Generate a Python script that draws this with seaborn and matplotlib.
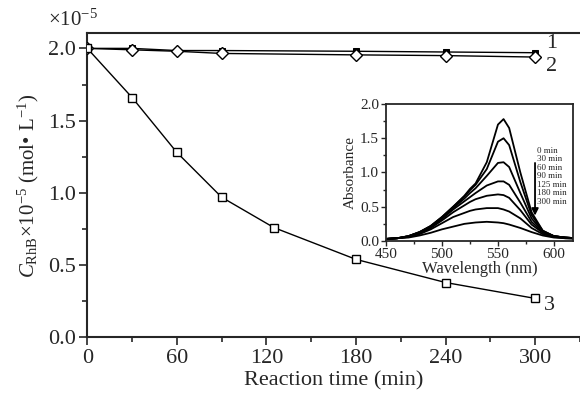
import numpy as np
import pandas as pd
import matplotlib
matplotlib.use("Agg")
import matplotlib.pyplot as plt
import seaborn as sns

sns.set_style("ticks")
plt.rcParams['font.family'] = ['Liberation Serif', 'DejaVu Serif']
plt.rcParams['mathtext.fontset'] = 'custom'
plt.rcParams['mathtext.rm'] = 'Liberation Serif'
plt.rcParams['mathtext.it'] = 'Liberation Serif:italic'

# ---- main data ----
time_1 = [0, 30, 60, 90, 180, 240, 300]
conc_1 = [2.00, 2.00, 1.985, 1.985, 1.98, 1.975, 1.97]
time_2 = [0, 30, 60, 90, 180, 240, 300]
conc_2 = [2.00, 1.99, 1.98, 1.965, 1.955, 1.95, 1.94]
time_3 = [0, 30, 60, 90, 125, 180, 240, 300]
conc_3 = [2.00, 1.66, 1.28, 0.97, 0.76, 0.54, 0.38, 0.27]
series_labels = ["1", "2", "3"]

# ---- inset spectra ----
wavelength = [450, 460, 470, 480, 490, 500, 510, 520, 525, 530, 540, 550, 555, 560, 570, 580, 590, 600, 610, 620]
spec_labels = ["0 min", "30 min", "60 min", "90 min", "125 min", "180 min", "300 min"]
spec_0 = [0.03, 0.04, 0.07, 0.13, 0.22, 0.35, 0.50, 0.66, 0.76, 0.84, 1.15, 1.70, 1.78, 1.65, 1.00, 0.42, 0.15, 0.07, 0.05, 0.04]
spec_30 = [0.03, 0.04, 0.07, 0.13, 0.22, 0.35, 0.50, 0.65, 0.74, 0.82, 1.05, 1.45, 1.50, 1.40, 0.86, 0.38, 0.15, 0.07, 0.05, 0.04]
spec_60 = [0.03, 0.04, 0.07, 0.13, 0.21, 0.34, 0.48, 0.62, 0.70, 0.77, 0.95, 1.14, 1.15, 1.08, 0.70, 0.33, 0.14, 0.07, 0.05, 0.04]
spec_90 = [0.03, 0.04, 0.07, 0.12, 0.20, 0.32, 0.46, 0.58, 0.64, 0.70, 0.81, 0.87, 0.87, 0.82, 0.56, 0.28, 0.13, 0.07, 0.05, 0.04]
spec_125 = [0.03, 0.04, 0.06, 0.11, 0.19, 0.30, 0.42, 0.52, 0.57, 0.61, 0.66, 0.68, 0.67, 0.63, 0.45, 0.24, 0.12, 0.07, 0.05, 0.04]
spec_180 = [0.03, 0.04, 0.06, 0.10, 0.17, 0.26, 0.35, 0.41, 0.44, 0.46, 0.48, 0.48, 0.46, 0.43, 0.33, 0.19, 0.10, 0.06, 0.04, 0.04]
spec_300 = [0.03, 0.04, 0.05, 0.08, 0.12, 0.17, 0.21, 0.25, 0.26, 0.27, 0.28, 0.27, 0.26, 0.24, 0.19, 0.13, 0.08, 0.05, 0.04, 0.03]
spectra = [spec_0, spec_30, spec_60, spec_90, spec_125, spec_180, spec_300]

fig = plt.figure(figsize=(5.8, 3.97), dpi=100)
ax = fig.add_axes([0.1505, 0.150, 0.8495, 0.766])

df1 = pd.DataFrame({"t": time_1, "c": conc_1})
df2 = pd.DataFrame({"t": time_2, "c": conc_2})
df3 = pd.DataFrame({"t": time_3, "c": conc_3})
sns.lineplot(data=df1, x="t", y="c", ax=ax, color="black", lw=1.0, marker="s",
             markersize=5, markerfacecolor="black", markeredgecolor="black", zorder=3)
sns.lineplot(data=df2, x="t", y="c", ax=ax, color="black", lw=1.0, marker="D",
             markersize=6, markerfacecolor="white", markeredgecolor="black", markeredgewidth=1.0, zorder=4)
sns.lineplot(data=df3, x="t", y="c", ax=ax, color="black", lw=1.0, marker="s",
             markersize=5.5, markerfacecolor="white", markeredgecolor="black", markeredgewidth=1.0, zorder=4)

ax.set_xlim(0, 325.3)
ax.set_ylim(0, 2.104)
ax.set_xticks([0, 60, 120, 180, 240, 300])
ax.set_xticks([30, 90, 150, 210, 270, 330], minor=True)
ax.set_yticks([0.0, 0.5, 1.0, 1.5, 2.0])
ax.set_yticklabels(["0.0", "0.5", "1.0", "1.5", "2.0"])
ax.set_yticks([0.25, 0.75, 1.25, 1.75], minor=True)
ax.tick_params(which="major", direction="out", length=6, width=1.2, labelsize=16, pad=2)
ax.tick_params(which="minor", direction="out", length=3.5, width=1.2)
for s in ["left", "bottom", "top"]:
    ax.spines[s].set_linewidth(1.5)
ax.spines["right"].set_visible(False)
ax.set_xlabel("Reaction time (min)", fontsize=16, labelpad=3)
ax.set_ylabel(r"$C_{\rm RhB}$×10$^{-5}$ (mol• L$^{-1}$)", fontsize=15, labelpad=5)

fig.text(0.083, 0.950, r"×10$^{-5}$", fontsize=15, ha="left", va="center")

ax.text(307, conc_1[-1] + 0.0, series_labels[0], fontsize=16, ha="left", va="bottom")
ax.text(307, conc_2[-1] - 0.0, series_labels[1], fontsize=16, ha="left", va="top")
ax.text(306, conc_3[-1] - 0.05, series_labels[2], fontsize=16, ha="left", va="center")

# ---- inset ----
ins = fig.add_axes([0.6655, 0.393, 0.3224, 0.345])
rows = []
for lab, vals in zip(spec_labels, spectra):
    for w, a in zip(wavelength, vals):
        rows.append({"wl": w, "abs": a, "time": lab})
sdf = pd.DataFrame(rows)
sns.lineplot(data=sdf, x="wl", y="abs", hue="time", palette=["black"] * len(spec_labels),
             ax=ins, lw=1.3, legend=False)
ins.set_xlim(450, 617)
ins.set_ylim(0, 2.0)
ins.set_xticks([450, 500, 550, 600])
ins.set_xticks([475, 525, 575], minor=True)
ins.set_yticks([0.0, 0.5, 1.0, 1.5, 2.0])
ins.set_yticklabels(["0.0", "0.5", "1.0", "1.5", "2.0"])
ins.set_yticks([0.25, 0.75, 1.25, 1.75], minor=True)
ins.tick_params(which="major", direction="out", length=3.5, width=1.0, labelsize=11, pad=1.5)
ins.tick_params(which="minor", direction="out", length=2, width=1.0)
for s in ins.spines.values():
    s.set_linewidth(1.3)
ins.set_xlabel("Wavelength (nm)", fontsize=12, labelpad=0)
ins.set_ylabel("Absorbance", fontsize=11, labelpad=2)

for i, lab in enumerate(spec_labels):
    ins.text(0.81, 0.657 - i * 0.062, lab, transform=ins.transAxes, fontsize=6.5,
             ha="left", va="center")
ins.annotate("", xy=(0.797, 0.165), xytext=(0.797, 0.59), xycoords="axes fraction",
             arrowprops=dict(arrowstyle="-|>", color="black", lw=1.3, mutation_scale=10))

fig.savefig("out.png", dpi=100)
